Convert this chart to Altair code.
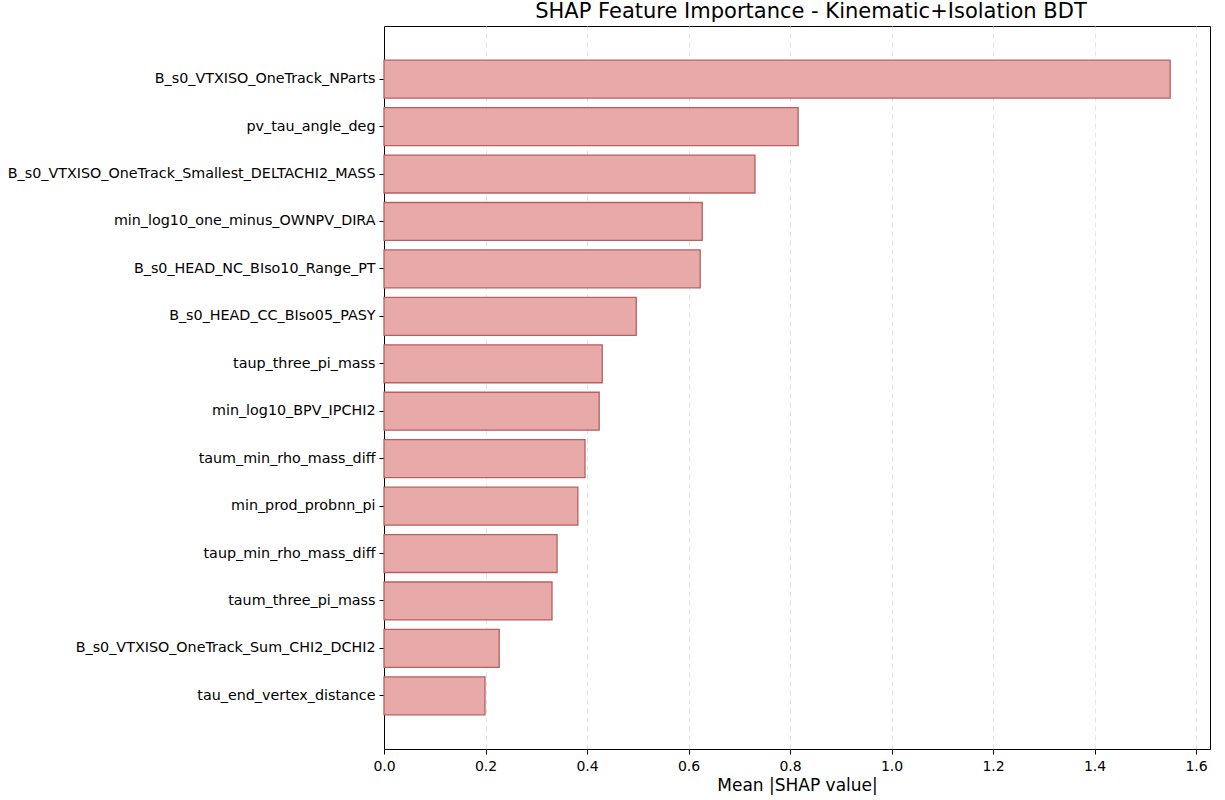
import altair as alt
import pandas as pd

features = [
    "B_s0_VTXISO_OneTrack_NParts",
    "pv_tau_angle_deg",
    "B_s0_VTXISO_OneTrack_Smallest_DELTACHI2_MASS",
    "min_log10_one_minus_OWNPV_DIRA",
    "B_s0_HEAD_NC_BIso10_Range_PT",
    "B_s0_HEAD_CC_BIso05_PASY",
    "taup_three_pi_mass",
    "min_log10_BPV_IPCHI2",
    "taum_min_rho_mass_diff",
    "min_prod_probnn_pi",
    "taup_min_rho_mass_diff",
    "taum_three_pi_mass",
    "B_s0_VTXISO_OneTrack_Sum_CHI2_DCHI2",
    "tau_end_vertex_distance",
]
values = [1.549, 0.816, 0.731, 0.627, 0.623, 0.497, 0.430, 0.424,
          0.396, 0.382, 0.341, 0.331, 0.227, 0.199]
x_ticks = [0.0, 0.2, 0.4, 0.6, 0.8, 1.0, 1.2, 1.4, 1.6]

df = pd.DataFrame({"feature": features, "value": values})

FONT = "DejaVu Sans"

chart = alt.Chart(df).mark_bar(
    fill="#E8A9A9", stroke="#B85F60", strokeWidth=1.3
).encode(
    x=alt.X("value:Q",
            scale=alt.Scale(domain=[0, 1.6275], nice=False, zero=True),
            axis=alt.Axis(title="Mean |SHAP value|", values=x_ticks, format=".1f",
                          grid=True, gridDash=[5, 4], gridColor="#dddddd",
                          gridOpacity=0.8, labelFontSize=14, titleFontSize=17,
                          titleFontWeight="normal", labelColor="black",
                          titleColor="black", tickColor="black", tickSize=5,
                          domainColor="black", labelPadding=5, titlePadding=4,
                          labelFlush=False)),
    y=alt.Y("feature:N", sort=None,
            scale=alt.Scale(paddingInner=0.2, paddingOuter=0.72),
            axis=alt.Axis(title=None, labelFontSize=14.3, labelColor="black",
                          tickColor="black", tickSize=5, domainColor="black",
                          labelLimit=500, labelPadding=4, grid=False)),
).properties(
    width=826,
    height=723,
    title=alt.TitleParams("SHAP Feature Importance - Kinematic+Isolation BDT",
                          fontSize=21, fontWeight="normal", font=FONT,
                          color="black", anchor="middle", dx=14, offset=4),
    autosize=alt.AutoSizeParams(type="none"),
    padding={"left": 384, "top": 26, "right": 15, "bottom": 51},
).configure(
    font=FONT,
).configure_view(
    stroke="black", strokeWidth=1
).configure_axis(
    labelFont=FONT, titleFont=FONT
)

chart.save("out.html", embed_options={"renderer": "svg", "actions": False})
